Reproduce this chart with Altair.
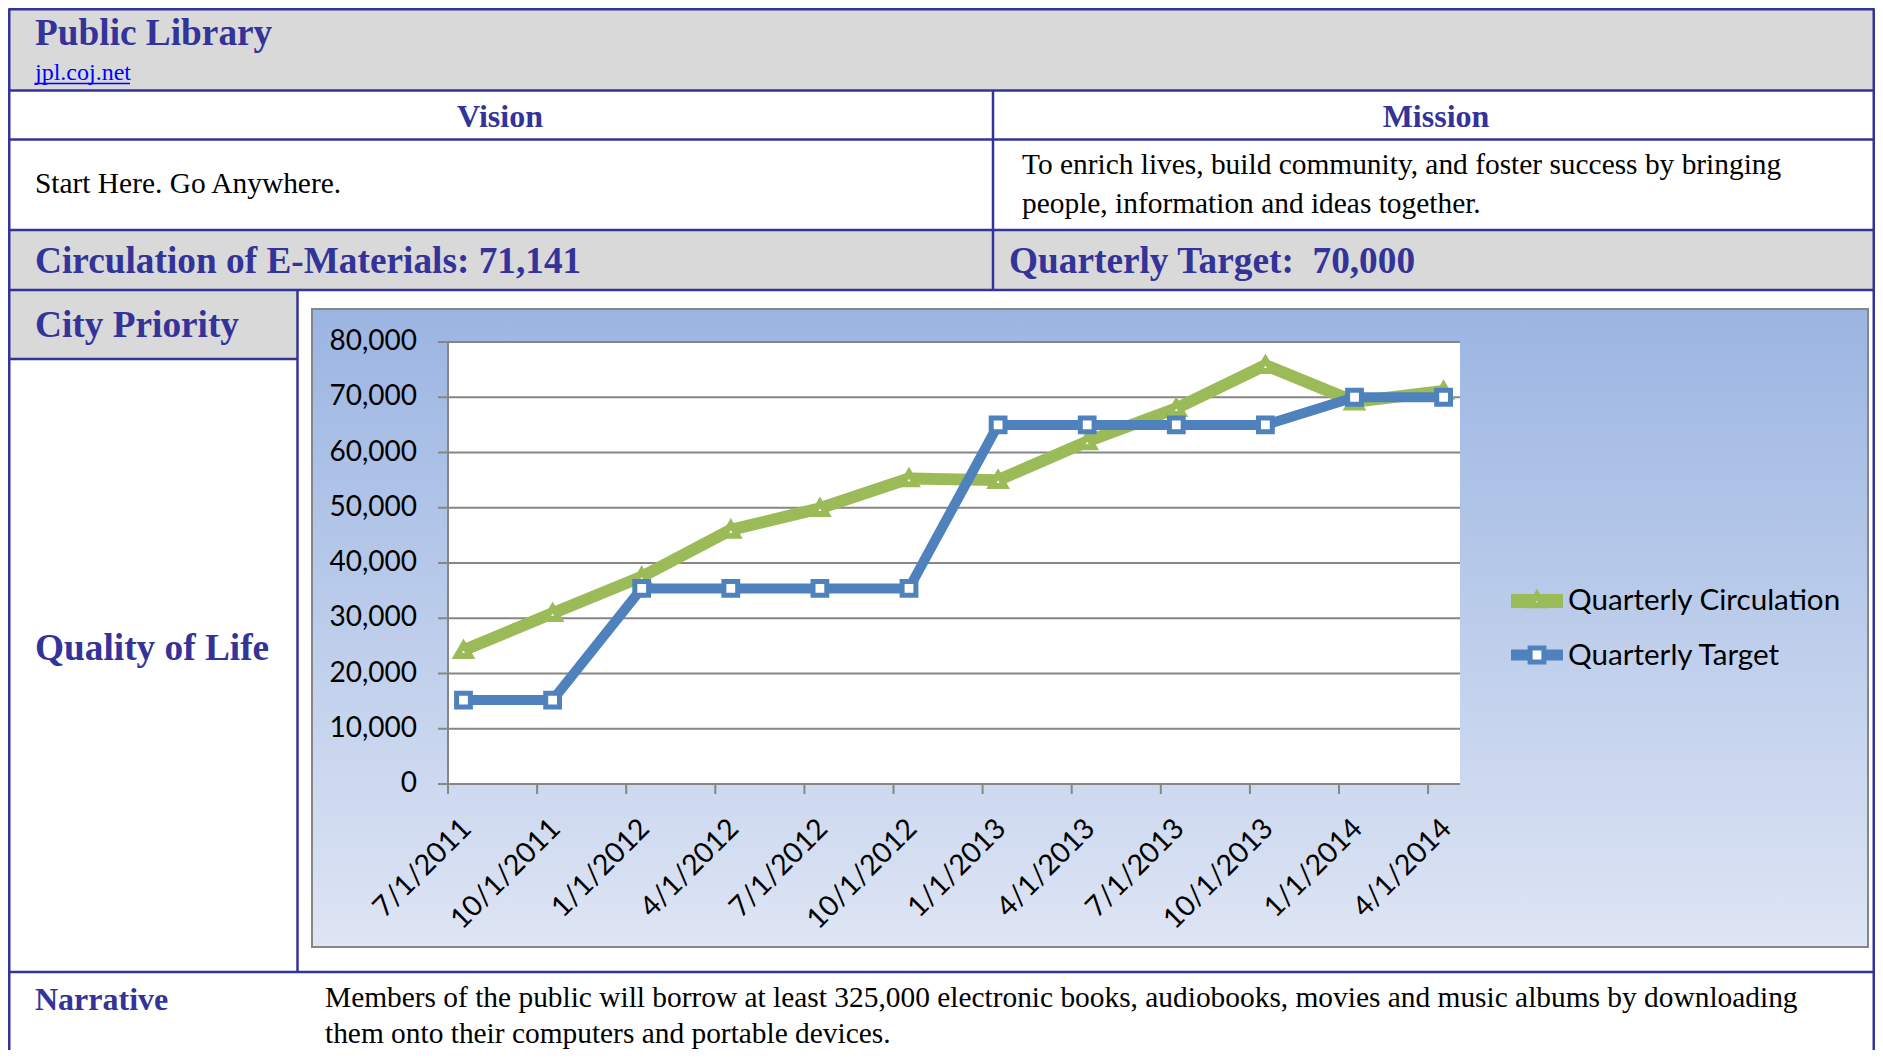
import altair as alt
import pandas as pd

# ---------------- data ----------------
dates = ['7/1/2011', '10/1/2011', '1/1/2012', '4/1/2012', '7/1/2012', '10/1/2012',
         '1/1/2013', '4/1/2013', '7/1/2013', '10/1/2013', '1/1/2014', '4/1/2014']
circulation = [24200, 30900, 37500, 46000, 49900, 55300, 55000, 62000, 68000, 75800, 69200, 71141]
target = [15200, 15200, 35400, 35400, 35400, 35400, 65000, 65000, 65000, 65000, 70000, 70000]
y_ticks = [0, 10000, 20000, 30000, 40000, 50000, 60000, 70000, 80000]
series_names = ['Quarterly Circulation', 'Quarterly Target']

title = 'Public Library'
link = 'jpl.coj.net'
vision_head, mission_head = 'Vision', 'Mission'
vision_text = 'Start Here. Go Anywhere.'
mission_lines = ['To enrich lives, build community, and foster success by bringing',
                 'people, information and ideas together.']
circ_text = 'Circulation of E-Materials: 71,141'
target_text = 'Quarterly Target:\u00a0 70,000'
priority_head = 'City Priority'
priority_text = 'Quality of Life'
narrative_head = 'Narrative'
narrative_lines = ['Members of the public will borrow at least 325,000 electronic books, audiobooks, movies and music albums by downloading',
                   'them onto their computers and portable devices.']

# ---------------- helpers ----------------
O = 8  # page margin
W, H = 1867, 1042
dummy = pd.DataFrame({'a': [0]})

BLUE_T = '#333399'
GREY = '#D9D9D9'
AX = '#868686'
GREEN = '#9BBB59'
BLUEL = '#4F81BD'
SERIF = 'Liberation Serif'
SANS = 'Lato'


def rect(x1, y1, x2, y2, **kw):
    return alt.Chart(dummy).mark_rect(**kw).encode(
        x=alt.value(x1 - O), x2=alt.value(x2 - O), y=alt.value(y1 - O), y2=alt.value(y2 - O))


def hline(x1, x2, y, color=BLUE_T, w=2.5):
    return alt.Chart(dummy).mark_rule(color=color, strokeWidth=w).encode(
        x=alt.value(x1 - O), x2=alt.value(x2 - O), y=alt.value(y - O))


def vline(x, y1, y2, color=BLUE_T, w=2.5):
    return alt.Chart(dummy).mark_rule(color=color, strokeWidth=w).encode(
        x=alt.value(x - O), y=alt.value(y1 - O), y2=alt.value(y2 - O))


def text(x, y, s, size, bold=False, color='black', align='left', font=SERIF):
    return alt.Chart(dummy).mark_text(
        text=s, font=font, fontSize=size, fontWeight='bold' if bold else 'normal',
        color=color, align=align, baseline='alphabetic').encode(
        x=alt.value(x - O), y=alt.value(y - O))


# plot area in page pixels
PL, PR, PT, PB = 448, 1460, 342, 784
xs = alt.Scale(domain=[-0.174, 11.184], range=[PL - O, PR - O], nice=False, zero=False)
ys = alt.Scale(domain=[0, 80000], range=[PB - O, PT - O], nice=False, zero=False)

df_c = pd.DataFrame({'idx': list(range(len(dates))), 'date': dates, 'v': circulation})
df_t = pd.DataFrame({'idx': list(range(len(dates))), 'date': dates, 'v': target})
df_y = pd.DataFrame({'v': y_ticks})

TOP = 9.25    # top border (page px) – as high as the page margin allows
LEFT = 9.25   # left border
RIGHT = 1873.75  # right border, kept inside the drawable area

layers = []

# grey fills
layers += [rect(LEFT, TOP, RIGHT, 90, fill=GREY),
           rect(LEFT, 230, RIGHT, 290, fill=GREY),
           rect(LEFT, 290, 297, 359, fill=GREY)]

# chart box with gradient
grad = alt.LinearGradient(gradient='linear',
                          stops=[alt.GradientStop(color='#9BB5E2', offset=0),
                                 alt.GradientStop(color='#DEE5F4', offset=1)],
                          x1=0, x2=0, y1=0, y2=1)
layers.append(rect(312, 309, 1868, 947, fill=grad, stroke=AX, strokeWidth=2))
# plot area
layers.append(rect(PL, PT, PR, PB, fill='white'))

# gridlines
layers.append(alt.Chart(df_y).mark_rule(color=AX, strokeWidth=2).encode(
    y=alt.Y('v:Q', scale=ys, axis=None), x=alt.value(PL - O), x2=alt.value(PR - O)))
# y ticks
layers.append(alt.Chart(df_y).mark_rule(color=AX, strokeWidth=2).encode(
    y=alt.Y('v:Q', scale=ys, axis=None), x=alt.value(438 - O), x2=alt.value(PL - O)))
# y axis line
layers.append(vline(PL, PT, PB + 1, color=AX, w=2))
# x ticks
layers.append(alt.Chart(df_c).mark_rule(color=AX, strokeWidth=2, xOffset=-15.5).encode(
    x=alt.X('idx:Q', scale=xs, axis=None), y=alt.value(PB - O), y2=alt.value(PB + 10 - O)))
# y labels
layers.append(alt.Chart(df_y).mark_text(font=SANS, fontSize=28, align='right',
                                        baseline='middle', color='black').encode(
    y=alt.Y('v:Q', scale=ys, axis=None), x=alt.value(417 - O),
    text=alt.Text('v:Q', format=',')))
# x labels
layers.append(alt.Chart(df_c).mark_text(font=SANS, fontSize=28.5, align='right', baseline='middle',
                                        angle=315, color='black', xOffset=3).encode(
    x=alt.X('idx:Q', scale=xs, axis=None), y=alt.value(824 - O), text='date:N'))

# series
layers.append(alt.Chart(df_c).mark_line(color=GREEN, strokeWidth=12, strokeJoin='round').encode(
    x=alt.X('idx:Q', scale=xs, axis=None), y=alt.Y('v:Q', scale=ys, axis=None)))
layers.append(alt.Chart(df_c).mark_point(shape='triangle-up', size=180, filled=True, fill='white',
                                         stroke=GREEN, strokeWidth=6, opacity=1).encode(
    x=alt.X('idx:Q', scale=xs, axis=None), y=alt.Y('v:Q', scale=ys, axis=None)))
layers.append(alt.Chart(df_t).mark_line(color=BLUEL, strokeWidth=10, strokeJoin='round').encode(
    x=alt.X('idx:Q', scale=xs, axis=None), y=alt.Y('v:Q', scale=ys, axis=None)))
layers.append(alt.Chart(df_t).mark_point(shape='square', size=190, filled=True, fill='white',
                                         stroke=BLUEL, strokeWidth=5, opacity=1).encode(
    x=alt.X('idx:Q', scale=xs, axis=None), y=alt.Y('v:Q', scale=ys, axis=None)))

# legend
layers.append(hline(1511, 1563, 601, color=GREEN, w=14))
layers.append(alt.Chart(dummy).mark_point(shape='triangle-up', size=150, filled=True, fill='white',
                                          stroke=GREEN, strokeWidth=6, opacity=1).encode(
    x=alt.value(1537 - O), y=alt.value(600 - O)))
layers.append(hline(1511, 1563, 655, color=BLUEL, w=11))
layers.append(alt.Chart(dummy).mark_point(shape='square', size=190, filled=True, fill='white',
                                          stroke=BLUEL, strokeWidth=5, opacity=1).encode(
    x=alt.value(1537 - O), y=alt.value(655 - O)))
layers.append(alt.Chart(dummy).mark_text(text=series_names[0], font=SANS, fontSize=29.6, align='left',
                                         baseline='middle', color='black').encode(
    x=alt.value(1568 - O), y=alt.value(601 - O)))
layers.append(alt.Chart(dummy).mark_text(text=series_names[1], font=SANS, fontSize=29.6, align='left',
                                         baseline='middle', color='black').encode(
    x=alt.value(1568 - O), y=alt.value(656 - O)))

# table borders
B = 1880
layers += [hline(LEFT - 1, RIGHT + 1, TOP), vline(LEFT, TOP, B), vline(RIGHT, TOP, B),
           hline(LEFT - 1, RIGHT + 1, 90.5), hline(LEFT - 1, RIGHT + 1, 139.5),
           hline(LEFT - 1, RIGHT + 1, 230), hline(LEFT - 1, RIGHT + 1, 290),
           vline(993, 90.5, 290), vline(297.5, 290, 972),
           hline(LEFT - 1, 297.5, 359), hline(LEFT - 1, RIGHT + 1, 972)]

# table texts
layers += [
    text(35, 45, title, 37.3, bold=True, color=BLUE_T),
    text(35, 80, link, 24, color='#0000FF'),
    hline(35, 130, 83.5, color='#0000FF', w=1.5),
    text(500, 127, vision_head, 32, bold=True, color=BLUE_T, align='center'),
    text(1436, 127, mission_head, 32, bold=True, color=BLUE_T, align='center'),
    text(35, 193, vision_text, 29.4),
    text(1022, 174, mission_lines[0], 29.4),
    text(1022, 213, mission_lines[1], 29.4),
    text(35, 273, circ_text, 37.3, bold=True, color=BLUE_T),
    text(1009, 273, target_text, 37.3, bold=True, color=BLUE_T),
    text(35, 337, priority_head, 37.3, bold=True, color=BLUE_T),
    text(35, 660, priority_text, 37.3, bold=True, color=BLUE_T),
    text(35, 1010, narrative_head, 32, bold=True, color=BLUE_T),
    text(325, 1007, narrative_lines[0], 29.4),
    text(325, 1043, narrative_lines[1], 29.4),
]

chart = alt.layer(*layers).properties(
    width=W, height=H, padding=0, autosize='none', background='white'
).configure_view(stroke=None)

chart.save("out.html", embed_options={"renderer": "svg", "actions": False})
